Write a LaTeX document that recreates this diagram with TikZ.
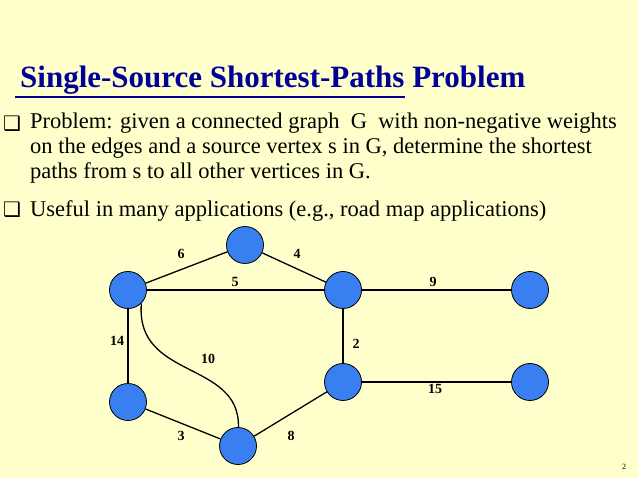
\documentclass[tikz,border=0pt]{standalone}
\usepackage{fontspec}
\setmainfont{Liberation Serif}
\newfontfamily\symfont{DejaVu Sans}
\usetikzlibrary{positioning}
\definecolor{slidebg}{HTML}{FFFFCC}
\definecolor{titleblue}{HTML}{000099}
\definecolor{vblue}{HTML}{3A7FEF}
\begin{document}
\begin{tikzpicture}[x=1pt, y=-1pt,
    vtx/.style={circle, draw=black, fill=vblue, thick, minimum size=37pt, inner sep=0pt},
    edge/.style={draw, line width=1.3pt},
    wt/.style={font=\fontsize{14}{14}\selectfont\bfseries},
    bul/.style={anchor=base west, inner sep=0pt, font=\fontsize{22.5}{25}\selectfont, align=left},
    box/.style={anchor=base west, inner sep=0pt, font=\symfont\fontsize{20}{20}\selectfont},
]
    \fill[slidebg] (0,0) rectangle (638,478);
    \useasboundingbox (0,0) rectangle (638,478);
    % Title
    \node[anchor=base west, inner sep=0pt, text=titleblue, font=\fontsize{31}{31}\selectfont\bfseries] (title) at (20,88) {Single-Source Shortest-Paths Problem};
    \draw[titleblue, line width=1.5pt] (15,97) -- (405,97);
    % Bullets
    \node[box] (b1) at (3,131) {❑};
    \node[bul, anchor=north west] (t1) at (30,113) {Problem: given a connected graph\ \ G\ \ with non-negative weights\\on the edges and a source vertex s in G, determine the shortest\\paths from s to all other vertices in G.};
    \node[box] (b2) at (3,217) {❑};
    \node[bul] (t2) at (30,217) {Useful in many applications (e.g., road map applications)};
    % Nodes
    \node[vtx] (top) at (245,245) {};
    \node[vtx] (lft) at (128,290) {};
    \node[vtx] (mid) at (343,290) {};
    \node[vtx] (rgt) at (530,290) {};
    \node[vtx] (blf) at (128,402) {};
    \node[vtx] (bot) at (238,446) {};
    \node[vtx] (mbt) at (343,382) {};
    \node[vtx] (rbt) at (530,382) {};
    % Edges
    \draw[edge] (lft) -- (top);
    \draw[edge] (top) -- (mid);
    \draw[edge] (lft) -- (mid);
    \draw[edge] (mid) -- (rgt);
    \draw[edge] (lft) -- (blf);
    \draw[edge] (lft.south east) .. controls (135,380) and (240,360) .. (bot);
    \draw[edge] (mid) -- (mbt);
    \draw[edge] (mbt) -- (rbt);
    \draw[edge] (blf) -- (bot);
    \draw[edge] (bot) -- (mbt);
    % Weights
    \node[wt] (w6) at (181,254) {6};
    \node[wt] (w4) at (297,254) {4};
    \node[wt] (w5) at (235,282) {5};
    \node[wt] (w9) at (433,282) {9};
    \node[wt] (w14) at (117,341) {14};
    \node[wt] (w10) at (208,359) {10};
    \node[wt] (w2) at (356,344) {2};
    \node[wt] (w15) at (435,389) {15};
    \node[wt] (w3) at (181,436) {3};
    \node[wt] (w8) at (291,436) {8};
    \node[font=\fontsize{8}{8}\selectfont] (pg) at (624,467) {2};
\end{tikzpicture}
\end{document}
